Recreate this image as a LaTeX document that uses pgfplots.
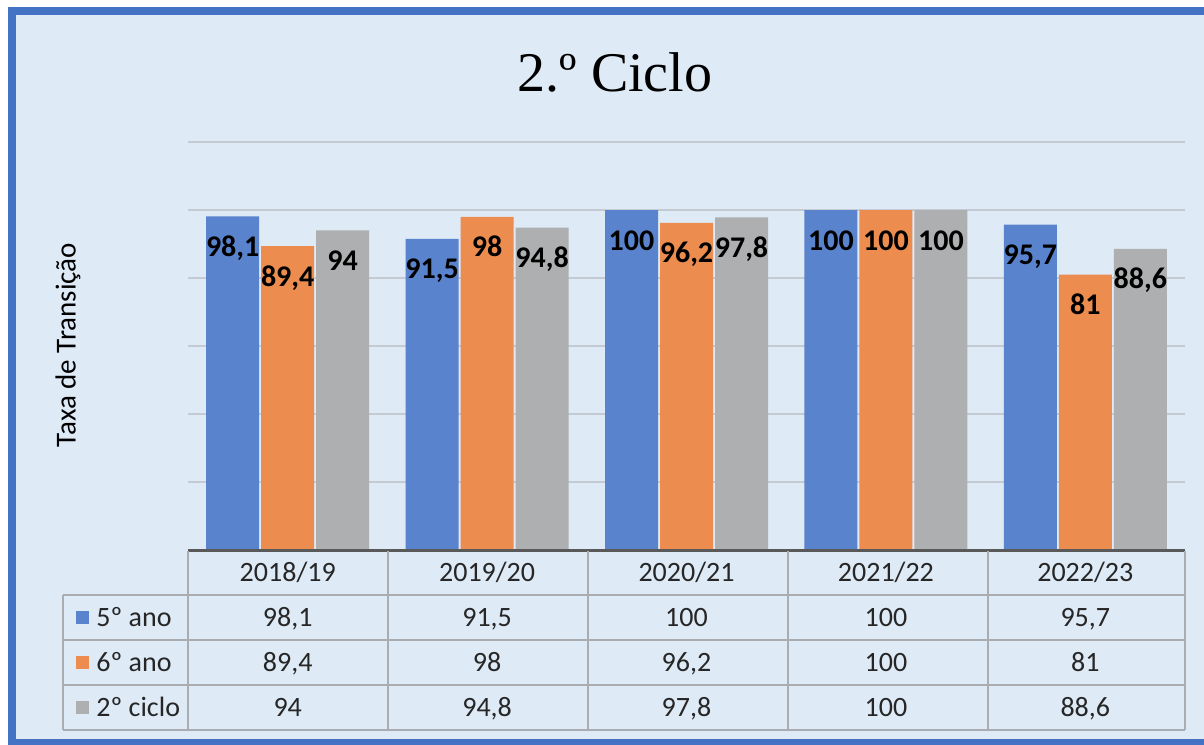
\documentclass[border=0pt]{standalone}
\usepackage{fontspec}
\setmainfont{Carlito}
\newfontfamily\titlefont{Liberation Serif}
\usepackage{pgfplots}
\usepackage{pgfplotstable}
\pgfplotsset{compat=1.18}

\definecolor{frameblue}{HTML}{4472C4}
\definecolor{bgblue}{HTML}{DEEAF6}
\definecolor{barA}{HTML}{5A83CE}
\definecolor{barB}{HTML}{EC8C4E}
\definecolor{barC}{HTML}{AEAFB0}
\definecolor{gridc}{HTML}{C3CAD2}
\definecolor{tabline}{HTML}{A9ADB2}

% taxa de transicao, 2.o ciclo
\pgfplotstableread{
x a b c
0 98.1 89.4 94
1 91.5 98 94.8
2 100 96.2 97.8
3 100 100 100
4 95.7 81 88.6
}\taxas

\pgfplotsset{
  barlab/.style={
    nodes near coords={\pgfmathprintnumber[assume math mode=true, use comma]{\pgfplotspointmeta}},
    nodes near coords align={anchor=base},
    every node near coord/.append style={xshift=#1, yshift=-20pt, text=black,
      font=\bfseries\fontsize{15}{15}\selectfont}},
  tabval/.style={draw=none, forget plot,
    nodes near coords={\pgfmathprintnumber[assume math mode=true, use comma]{\pgfplotspointmeta}},
    nodes near coords align={anchor=base},
    every node near coord/.append style={yshift=-4.6pt, text=black!85, font=\fontsize{14}{14}\selectfont}},
}

\begin{document}
\begin{tikzpicture}
\clip (0,0) rectangle (602pt,-372pt);
\begin{scope}[x=0.5pt,y=-0.5pt]
  \fill[white] (0,0) rectangle (1204,744);
  \fill[frameblue] (8,7) rectangle (1230,770);
  \fill[bgblue] (16,15) rectangle (1230,739);
  \node[font=\titlefont\fontsize{28}{28}\selectfont] at (615,72) {2.º Ciclo};
  \node[rotate=90, font=\fontsize{14.5}{14.5}\selectfont] at (68,345) {Taxa de Transição};
\end{scope}

\begin{axis}[
  at={(94pt,-275pt)}, anchor=south west,
  scale only axis, width=498.5pt, height=204pt,
  xmin=-0.5, xmax=4.5, ymin=0, ymax=120,
  clip=false,
  axis line style={draw=none},
  tick style={draw=none},
  ytick={20,40,...,120}, yticklabels={},
  ymajorgrids, major grid style={gridc, line width=1pt},
  xtick={0,...,4},
  xticklabels={2018/19,2019/20,2020/21,2021/22,2022/23},
  xticklabel style={anchor=base, yshift=-15.8pt, text=black!85,
    font=\fontsize{14}{14}\selectfont},
]
\addplot[ybar, bar width=26.5pt, bar shift=-27.5pt, fill=barA, draw=none, barlab=-27.5pt]
  table[x=x, y=a]{\taxas};
\addplot[ybar, bar width=26.5pt, bar shift=0pt, fill=barB, draw=none, barlab=0pt]
  table[x=x, y=b]{\taxas};
\addplot[ybar, bar width=26.5pt, bar shift=27.5pt, fill=barC, draw=none, barlab=27.5pt]
  table[x=x, y=c]{\taxas};

% data table rows under the axis
\addplot[tabval, point meta=\thisrow{a}] table[x=x, y expr=-19.85]{\taxas};
\addplot[tabval, point meta=\thisrow{b}] table[x=x, y expr=-33.09]{\taxas};
\addplot[tabval, point meta=\thisrow{c}] table[x=x, y expr=-46.32]{\taxas};
\end{axis}

\begin{scope}[x=0.5pt,y=-0.5pt]
  \draw[black!65, line width=1.5pt] (188,550) -- (1185,550);
  \begin{scope}[tabline, line width=0.6pt]
    \foreach \xx in {188,388,588,788,988,1185} \draw (\xx,551) -- (\xx,730);
    \draw (63,595) -- (63,730);
    \foreach \yy in {595,640,685,730} \draw (63,\yy) -- (1185,\yy);
  \end{scope}
  \foreach \yy/\cc/\tt in {617.5/barA/5º ano, 662.5/barB/6º ano, 707.5/barC/2º ciclo} {
    \fill[\cc] (76,\yy-6.5) rectangle (89,\yy+6.5);
    \node[anchor=base west, inner sep=0pt, text=black!85, font=\fontsize{14}{14}\selectfont] at (96,\yy+9) {\tt};
  }
\end{scope}
\end{tikzpicture}
\end{document}
